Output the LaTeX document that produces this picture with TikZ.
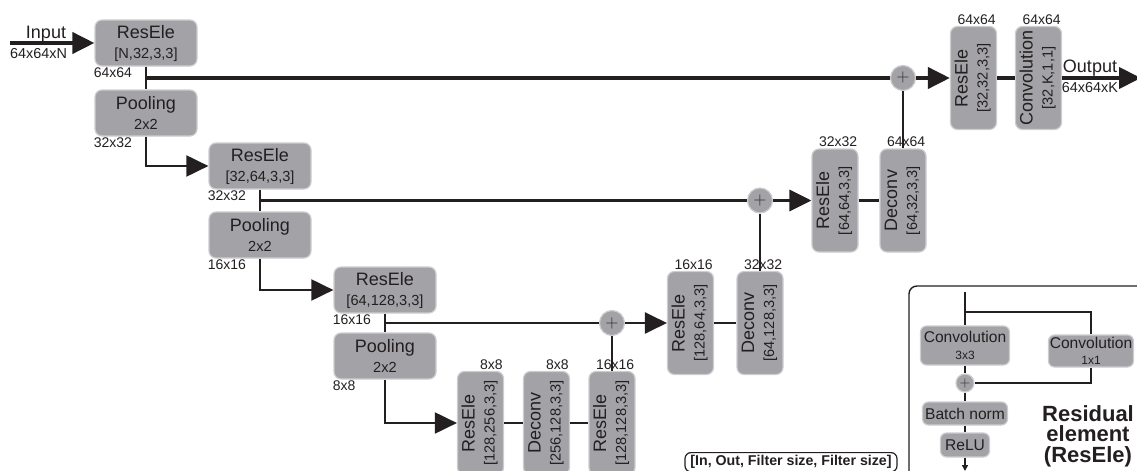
\documentclass[tikz,border=0pt]{standalone}
\usepackage{fontspec}
\setmainfont{Liberation Sans}
\usepackage{xcolor}
\usepackage{graphicx}
\usetikzlibrary{arrows.meta}
\definecolor{boxgray}{RGB}{163,163,167}
\definecolor{boxedge}{RGB}{205,205,207}
\definecolor{ink}{RGB}{35,31,32}
\newcommand{\bigsz}{\fontsize{9}{10}\selectfont}
\newcommand{\smallsz}{\fontsize{7.3}{10}\selectfont}
\newcommand{\insz}{\fontsize{7.8}{8.3}\selectfont}
\newcommand{\vtext}[2]{\rotatebox{90}{\begin{tabular}{@{}c@{}}#1\\{\smallsz #2}\end{tabular}}}
\tikzstyle{resbox} = [draw=boxedge, line width=0.6pt, fill=boxgray, rounded corners=3.5pt, minimum width=51pt, minimum height=23pt, inner sep=0pt, align=center, text=ink, font=\bigsz]
\tikzstyle{vbox} = [resbox, minimum width=23pt, minimum height=51.5pt]
\tikzstyle{inbox} = [resbox, font=\insz, rounded corners=3pt]
\tikzstyle{sumdot} = [circle, draw=boxedge, line width=0.6pt, fill=boxgray, minimum size=12.5pt, inner sep=0pt, text=ink!90, font=\fontsize{8.5}{8.5}\selectfont]
\tikzstyle{sizelab} = [inner sep=0.5pt, text=ink, font=\fontsize{7}{8}\selectfont]
\tikzstyle{iolab} = [inner sep=0pt, text=ink]
\tikzstyle{lvone} = [draw=ink, line width=2pt]
\tikzstyle{lvtwo} = [draw=ink, line width=1.7pt]
\tikzstyle{lvthree} = [draw=ink, line width=1.4pt]
\tikzstyle{lvfour} = [draw=ink, line width=1.2pt]
\tikzstyle{thinln} = [draw=ink, line width=1pt]
\tikzstyle{inln} = [draw=ink, line width=0.75pt]
\tikzstyle{bigtip} = [-{Triangle[length=11pt,width=10.5pt]}]
\tikzstyle{smalltip} = [-{Triangle[length=3pt,width=3pt]}]
\begin{document}
\begin{tikzpicture}[x=0.5pt,y=-0.5pt]
\useasboundingbox (0,0) rectangle (1137,471);
\clip (0,0) rectangle (1137,471);

% encoder
\node[resbox] (re1) at (146,43) {ResEle\\{\smallsz [N,32,3,3]}};
\node[resbox] (pool1) at (146,113) {Pooling\\{\smallsz 2x2}};
\node[resbox] (re2) at (260,166) {ResEle\\{\smallsz [32,64,3,3]}};
\node[resbox] (pool2) at (260,235) {Pooling\\{\smallsz 2x2}};
\node[resbox] (re3) at (385,290) {ResEle\\{\smallsz [64,128,3,3]}};
\node[resbox] (pool3) at (385,356) {Pooling\\{\smallsz 2x2}};

% bottom
\node[vbox] (re4) at (480.5,423) {\vtext{ResEle}{[128,256,3,3]}};
\node[vbox] (dc4) at (546.5,423) {\vtext{Deconv}{[256,128,3,3]}};
\node[vbox] (re5) at (612,423) {\vtext{ResEle}{[128,128,3,3]}};

% decoder
\node[sumdot] (sum3) at (612,323) {$+$};
\node[vbox] (re6) at (690.5,323) {\vtext{ResEle}{[128,64,3,3]}};
\node[vbox] (dc6) at (760,323) {\vtext{Deconv}{[64,128,3,3]}};
\node[sumdot] (sum2) at (760,200.5) {$+$};
\node[vbox] (re7) at (835,200.5) {\vtext{ResEle}{[64,64,3,3]}};
\node[vbox] (dc7) at (903,200.5) {\vtext{Deconv}{[64,32,3,3]}};
\node[sumdot] (sum1) at (903,78) {$+$};
\node[vbox] (re8) at (973.5,78) {\vtext{ResEle}{[32,32,3,3]}};
\node[vbox] (conv) at (1038.5,78) {\vtext{Convolution}{[32,K,1,1]}};

% sizes
\node[sizelab, anchor=north west] at ([xshift=-1pt]re1.south west) {64x64};
\node[sizelab, anchor=north west] at ([xshift=-1pt]pool1.south west) {32x32};
\node[sizelab, anchor=north west] at ([xshift=-1pt]re2.south west) {32x32};
\node[sizelab, anchor=north west] at ([xshift=-1pt]pool2.south west) {16x16};
\node[sizelab, anchor=north west] at ([xshift=-1pt]re3.south west) {16x16};
\node[sizelab, anchor=north west] at ([xshift=-1pt]pool3.south west) {8x8};
\node[sizelab, anchor=south east] at (re4.north east) {8x8};
\node[sizelab, anchor=south east] at (dc4.north east) {8x8};
\node[sizelab, anchor=south east] at (re5.north east) {16x16};
\node[sizelab, anchor=south east] at (re6.north east) {16x16};
\node[sizelab, anchor=south east] at (dc6.north east) {32x32};
\node[sizelab, anchor=south east] at (re7.north east) {32x32};
\node[sizelab, anchor=south east] at (dc7.north east) {64x64};
\node[sizelab, anchor=south east] at (re8.north east) {64x64};
\node[sizelab, anchor=south east] at (conv.north east) {64x64};

% input / output
\coordinate (inpt) at (10,43);
\coordinate (outpt) at (1141,78);
\node[iolab, font=\bigsz] (inlab) at (46,34) {Input};
\node[iolab, font=\fontsize{7.2}{8}\selectfont] (insize) at (38.5,54) {64x64xN};
\node[iolab, font=\bigsz] (outlab) at (1090,68) {Output};
\node[iolab, font=\fontsize{7.2}{8}\selectfont] (outsize) at (1090,88) {64x64xK};

\path (re1.south) -- (pool1.north) coordinate[pos=0.5] (s1);
\path (re2.south) -- (pool2.north) coordinate[pos=0.5] (s2);
\path (re3.south) -- (pool3.north) coordinate[pos=0.5] (s3);

\draw[lvone, bigtip] (inpt) -- (re1);
\draw[thinln] (re1) -- (pool1);
\draw[thinln] (re2) -- (pool2);
\draw[thinln] (re3) -- (pool3);
\draw[thinln, bigtip] (pool1) |- (re2);
\draw[thinln, bigtip] (pool2) |- (re3);
\draw[thinln, bigtip] (pool3) |- (re4);
\draw[lvfour] (re4) -- (dc4);
\draw[lvfour] (dc4) -- (re5);
\draw[thinln] (re5) -- (sum3);
\draw[lvthree] (s3) -- (sum3);
\draw[lvthree, bigtip] (sum3) -- (re6);
\draw[lvthree] (re6) -- (dc6);
\draw[thinln] (dc6) -- (sum2);
\draw[lvtwo] (s2) -- (sum2);
\draw[lvtwo, bigtip] (sum2) -- (re7);
\draw[lvtwo] (re7) -- (dc7);
\draw[thinln] (dc7) -- (sum1);
\draw[lvone] (s1) -- (sum1);
\draw[lvone, bigtip] (sum1) -- (re8);
\draw[lvone] (re8) -- (conv);
\draw[lvone, bigtip] (conv) -- (outpt);

% legend
\node[draw=ink, line width=0.6pt, rounded corners=3pt, inner xsep=2.7pt, inner ysep=1.5pt, anchor=north, text=ink, font=\fontsize{7.1}{8}\selectfont\bfseries] (legend) at (791,452) {[In, Out, Filter size, Filter size]};

% residual element
\draw[ink, line width=0.7pt, rounded corners=4pt] (909,286) rectangle (1170,500);
\node[inbox, minimum width=44.5pt, minimum height=19.5pt] (cv3) at (965,345.5) {Convolution\\{\fontsize{6}{8.3}\selectfont 3x3}};
\node[inbox, minimum width=42.5pt, minimum height=16pt] (cv1) at (1091,351) {Convolution\\{\fontsize{6}{8.3}\selectfont 1x1}};
\node[sumdot, minimum size=9pt, font=\fontsize{6.5}{6.5}\selectfont] (sumr) at (965,383) {$+$};
\node[inbox, minimum width=42.5pt, minimum height=11.5pt] (bn) at (965,413.5) {Batch norm};
\node[inbox, minimum width=24.5pt, minimum height=12pt] (relu) at (965,445) {ReLU};
\node[iolab, align=center, font=\fontsize{11}{10.3}\selectfont\bfseries] (restitle) at (1088,436) {Residual\\element\\(ResEle)};
\coordinate (rtop) at (965,292);
\coordinate (rsplit) at (965,312);
\coordinate (rbot) at (965,471);
\draw[inln] (rtop) -- (cv3);
\draw[inln] (rsplit) -| (cv1);
\draw[inln] (cv3) -- (sumr);
\draw[inln] (cv1) |- (sumr);
\draw[inln] (sumr) -- (bn);
\draw[inln] (bn) -- (relu);
\draw[inln, smalltip] (relu) -- (rbot);
\end{tikzpicture}
\end{document}
